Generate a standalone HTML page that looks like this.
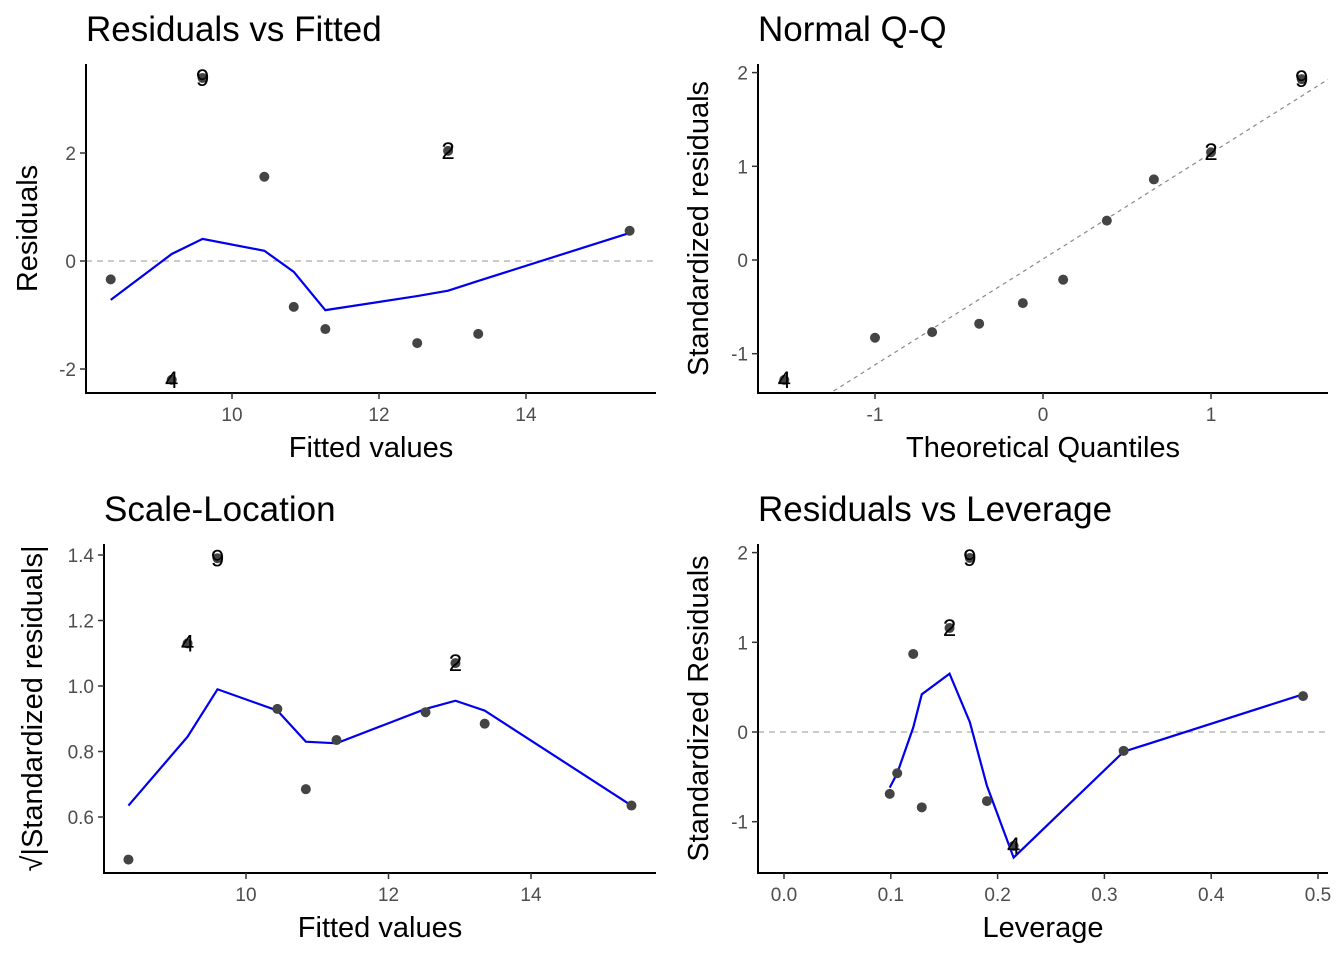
<!DOCTYPE html>
<html><head><meta charset="utf-8">
<style>
html,body{margin:0;padding:0;background:#fff;}
svg text{font-family:"Liberation Sans",sans-serif;}
</style></head>
<body>
<svg id="chart" width="1344" height="960" xmlns="http://www.w3.org/2000/svg"></svg>
<script>
// Panel 1: Residuals vs Fitted
const fitted = [8.35, 9.6, 10.44, 12.94, 15.41, 10.84, 11.27, 12.52, 13.35, 9.18];
const residuals = [-0.34, 3.39, 1.56, 2.04, 0.56, -0.85, -1.26, -1.52, -1.35, -2.2];
const obsLabels = ["", "9", "", "2", "", "", "", "", "", "4"];
const smoothFittedX = [8.35, 9.18, 9.6, 10.44, 10.84, 11.27, 12.52, 12.94, 13.35, 15.41];
const smoothResid = [-0.72, 0.13, 0.41, 0.19, -0.2, -0.91, -0.65, -0.55, -0.37, 0.52];
const xTicks1 = [10, 12, 14];
const yTicks1 = [-2, 0, 2];
// Panel 2: Normal Q-Q
const theoQ = [-1.54, -1.0, -0.66, -0.38, -0.12, 0.12, 0.38, 0.66, 1.0, 1.54];
const stdResidSorted = [-1.28, -0.83, -0.77, -0.68, -0.46, -0.21, 0.42, 0.86, 1.15, 1.93];
const qqLabels = ["4", "", "", "", "", "", "", "", "2", "9"];
const qqLine = [0.01, 1.13]; // intercept, slope
const xTicks2 = [-1, 0, 1];
const yTicks2 = [-1, 0, 1, 2];
// Panel 3: Scale-Location
const sqrtStd = [0.47, 1.39, 0.93, 1.07, 0.635, 0.685, 0.835, 0.92, 0.885, 1.13];
const smoothSqrt = [0.635, 0.845, 0.99, 0.925, 0.83, 0.825, 0.93, 0.955, 0.925, 0.635];
const xTicks3 = [10, 12, 14];
const yTicks3 = [0.6, 0.8, 1.0, 1.2, 1.4];
// Panel 4: Residuals vs Leverage
const leverage = [0.099, 0.174, 0.121, 0.155, 0.486, 0.19, 0.129, 0.318, 0.106, 0.215];
const stdResid = [-0.69, 1.94, 0.87, 1.16, 0.40, -0.77, -0.84, -0.21, -0.46, -1.27];
const levLabels = ["", "9", "", "2", "", "", "", "", "", "4"];
const smoothLevX = [0.099, 0.106, 0.121, 0.129, 0.155, 0.174, 0.19, 0.215, 0.318, 0.486];
const smoothLevY = [-0.62, -0.46, 0.05, 0.42, 0.65, 0.11, -0.6, -1.4, -0.22, 0.42];
const xTicks4 = [0.0, 0.1, 0.2, 0.3, 0.4, 0.5];
const yTicks4 = [-1, 0, 1, 2];

const NS = "http://www.w3.org/2000/svg";
const svg = document.getElementById("chart");
function mk(tag, attrs, parent) {
  const e = document.createElementNS(NS, tag);
  for (const k in attrs) e.setAttribute(k, attrs[k]);
  (parent || svg).appendChild(e);
  return e;
}
function lin(d0, d1, p0, p1) { return v => p0 + (v - d0) * (p1 - p0) / (d1 - d0); }

function panel(o) {
  const g = mk("g", {});
  
  
  const sx = lin(o.xd[0], o.xd[1], o.xp[0], o.xp[1]);
  const sy = lin(o.yd[0], o.yd[1], o.yp[0], o.yp[1]);
  const L = o.box[0], T = o.box[1], R = o.box[2], B = o.box[3];
  const t = mk("text", {x: o.titleX, y: T - 23, "font-size": 35, fill: "#000"}, g);
  t.textContent = o.title;
  
  
  if (o.hline !== undefined) {
    const h = mk("line", {x1: L, x2: R, y1: sy(o.hline), y2: sy(o.hline), stroke: "#aaa", "stroke-width": 1.3, "stroke-dasharray": "6,5"}, g);
    
    
  }
  if (o.abline) {
    const x0 = o.xd[0] - 5, x1 = o.xd[1] + 5;
    const cp = mk("clipPath", {id: "clip" + o.name}, g);
    mk("rect", {x: L, y: T, width: R - L, height: B - T}, cp);
    const a = mk("line", {x1: sx(x0), x2: sx(x1), y1: sy(o.abline[0] + o.abline[1] * x0), y2: sy(o.abline[0] + o.abline[1] * x1), stroke: "#888", "stroke-width": 1.2, "stroke-dasharray": "4,4", "clip-path": "url(#clip" + o.name + ")"}, g);
    
    
  }
  if (o.sx) {
    const p = mk("polyline", {points: o.sx.map((v, i) => sx(v) + "," + sy(o.sy[i])).join(" "), fill: "none", stroke: "#0000ee", "stroke-width": 2.2}, g);
    
    
  }
  o.px.forEach((v, i) => {
    const c = mk("circle", {cx: sx(v), cy: sy(o.py[i]), r: 5, fill: "#444"}, g);
    
    
    if (o.labels[i]) {
      const tl = mk("text", {x: sx(v), y: sy(o.py[i]) + 8, "font-size": 24, "text-anchor": "middle", fill: "#000"}, g);
      tl.textContent = o.labels[i];
      
      
    }
  });
  const ax = mk("path", {d: `M${L},${T} V${B} H${R}`, fill: "none", stroke: "#000", "stroke-width": 2}, g);
  
  
  o.xt.forEach(v => {
    mk("line", {x1: sx(v), x2: sx(v), y1: B, y2: B + 6, stroke: "#333", "stroke-width": 1.5}, g);
    const tx = mk("text", {x: sx(v), y: B + 28, "font-size": 19, "text-anchor": "middle", fill: "#4d4d4d"}, g);
    tx.textContent = o.xfmt ? o.xfmt(v) : String(v);
    
    
  });
  o.yt.forEach(v => {
    mk("line", {x1: L - 6, x2: L, y1: sy(v), y2: sy(v), stroke: "#333", "stroke-width": 1.5}, g);
    const ty = mk("text", {x: L - 10, y: sy(v) + 7, "font-size": 19, "text-anchor": "end", fill: "#4d4d4d"}, g);
    ty.textContent = o.yfmt ? o.yfmt(v) : String(v);
    
    
  });
  const xt = mk("text", {x: (L + R) / 2, y: B + 64, "font-size": 29, "text-anchor": "middle", fill: "#000"}, g);
  xt.textContent = o.xlab;
  
  
  const yt = mk("text", {x: 0, y: 0, "font-size": 29, "text-anchor": "middle", fill: "#000", transform: `translate(${o.ylabX},${(T + B) / 2}) rotate(-90)`}, g);
  yt.textContent = o.ylab;
  
  
}

panel({name: "residuals-vs-fitted", title: "Residuals vs Fitted", titleX: 86, box: [86, 64, 656, 393],
  xd: [10, 14], xp: [232, 526], yd: [0, 2], yp: [261, 153], hline: 0,
  px: fitted, py: residuals, labels: obsLabels, sx: smoothFittedX, sy: smoothResid,
  xt: xTicks1, yt: yTicks1, xlab: "Fitted values", ylab: "Residuals", ylabX: 37});
panel({name: "normal-qq", title: "Normal Q-Q", titleX: 758, box: [758, 64, 1328, 393],
  xd: [-1, 1], xp: [875, 1211], yd: [0, 1], yp: [260, 166.3], abline: qqLine,
  px: theoQ, py: stdResidSorted, labels: qqLabels,
  xt: xTicks2, yt: yTicks2, xlab: "Theoretical Quantiles", ylab: "Standardized residuals", ylabX: 708});
panel({name: "scale-location", title: "Scale-Location", titleX: 104, box: [104, 544, 656, 873],
  xd: [10, 14], xp: [246, 531], yd: [0.6, 1.4], yp: [817, 555],
  px: fitted, py: sqrtStd, labels: obsLabels, sx: smoothFittedX, sy: smoothSqrt,
  xt: xTicks3, yt: yTicks3, yfmt: v => v.toFixed(1), xlab: "Fitted values", ylab: "\u221A|Standardized residuals|", ylabX: 42});
panel({name: "residuals-vs-leverage", title: "Residuals vs Leverage", titleX: 758, box: [758, 544, 1328, 873],
  xd: [0, 0.5], xp: [784, 1318], yd: [0, 1], yp: [732, 642.3], hline: 0,
  px: leverage, py: stdResid, labels: levLabels, sx: smoothLevX, sy: smoothLevY,
  xt: xTicks4, yt: yTicks4, xfmt: v => v.toFixed(1), xlab: "Leverage", ylab: "Standardized Residuals", ylabX: 708});
</script>
</body></html>
